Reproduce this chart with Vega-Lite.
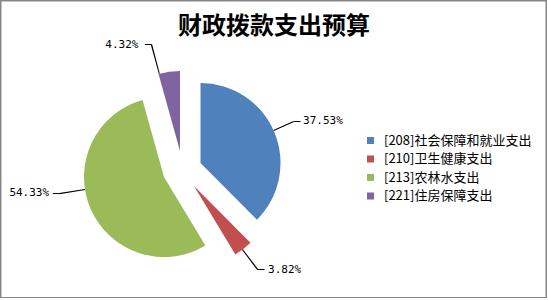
{
  "$schema": "https://vega.github.io/schema/vega-lite/v6.json",
  "width": 547,
  "height": 298,
  "autosize": {"type": "none"},
  "padding": 0,
  "background": "#ffffff",
  "title": {
    "text": "财政拨款支出预算",
    "font": "Noto Sans CJK SC",
    "fontSize": 24,
    "fontWeight": "bold",
    "color": "#000000",
    "anchor": "middle",
    "frame": "group",
    "orient": "none",
    "baseline": "middle",
    "dx": 274,
    "dy": 27
  },
  "data": {
    "values": [
      {"category": "[208]社会保障和就业支出", "pct": 0.3753},
      {"category": "[210]卫生健康支出", "pct": 0.0382},
      {"category": "[213]农林水支出", "pct": 0.5433},
      {"category": "[221]住房保障支出", "pct": 0.0432}
    ]
  },
  "encoding": {
    "theta": {"field": "pct", "type": "quantitative", "stack": "normalize"},
    "order": {"field": "category", "type": "ordinal", "sort": "ascending"}
  },
  "resolve": {"scale": {"theta": "independent"}},
  "layer": [
    {
      "data": {"values": [{"frame": "border"}]},
      "mark": {"type": "rect", "x": 0.75, "y": 0.75, "x2": 546.25, "y2": 297.75, "fill": null, "fillOpacity": 0, "stroke": "#878787", "strokeWidth": 1.5},
      "encoding": {"theta": null, "order": null}
    },
    {
      "mark": {"type": "arc", "radius": 80, "x": 200.5, "y": 163},
      "encoding": {
        "color": {
          "field": "category", "type": "nominal",
          "scale": {"domain": ["[208]社会保障和就业支出", "[210]卫生健康支出", "[213]农林水支出", "[221]住房保障支出"], "range": ["#4F81BD", "#C0504D", "#9BBB59", "#8064A2"]},
          "legend": {"title": null, "orient": "none", "legendX": 364, "legendY": 134, "symbolType": "square", "symbolSize": 49, "symbolStrokeWidth": 0, "labelFont": "Noto Sans CJK SC", "labelFontSize": 13, "labelColor": "#000000", "labelOffset": 7, "rowPadding": 4.5, "padding": 0}
        },
        "opacity": {"condition": {"test": "datum.category === '[208]社会保障和就业支出'", "value": 1}, "value": 0}
      }
    },
    {
      "mark": {"type": "arc", "radius": 80, "x": 194, "y": 186},
      "encoding": {
        "color": {"field": "category", "type": "nominal"},
        "opacity": {"condition": {"test": "datum.category === '[210]卫生健康支出'", "value": 1}, "value": 0}
      }
    },
    {
      "mark": {"type": "arc", "radius": 80, "x": 164, "y": 177},
      "encoding": {
        "color": {"field": "category", "type": "nominal"},
        "opacity": {"condition": {"test": "datum.category === '[213]农林水支出'", "value": 1}, "value": 0}
      }
    },
    {
      "mark": {"type": "arc", "radius": 80, "x": 180, "y": 151},
      "encoding": {
        "color": {"field": "category", "type": "nominal"},
        "opacity": {"condition": {"test": "datum.category === '[221]住房保障支出'", "value": 1}, "value": 0}
      }
    },
    {
      "mark": {"type": "arc", "radius": 102, "radius2": 80, "x": 200.5, "y": 163, "color": "#000000"},
      "encoding": {
        "theta": {"field": "pct", "type": "quantitative", "stack": "normalize", "scale": {"domain": [0, 1], "range": [1.145809, 1.178359]}},
        "detail": {"field": "category", "type": "nominal"},
        "opacity": {"condition": {"test": "datum.category === '[208]社会保障和就业支出'", "value": 1}, "value": 0}
      }
    },
    {
      "mark": {"type": "arc", "radius": 105, "radius2": 80, "x": 194, "y": 186, "color": "#000000"},
      "encoding": {
        "theta": {"field": "pct", "type": "quantitative", "stack": "normalize", "scale": {"domain": [0, 1], "range": [2.364449, 2.684281]}},
        "detail": {"field": "category", "type": "nominal"},
        "opacity": {"condition": {"test": "datum.category === '[210]卫生健康支出'", "value": 1}, "value": 0}
      }
    },
    {
      "mark": {"type": "arc", "radius": 106, "radius2": 80, "x": 164, "y": 177, "color": "#000000"},
      "encoding": {
        "theta": {"field": "pct", "type": "quantitative", "stack": "normalize", "scale": {"domain": [0, 1], "range": [4.539895, 4.562384]}},
        "detail": {"field": "category", "type": "nominal"},
        "opacity": {"condition": {"test": "datum.category === '[213]农林水支出'", "value": 1}, "value": 0}
      }
    },
    {
      "mark": {"type": "arc", "radius": 110, "radius2": 80, "x": 180, "y": 151, "color": "#000000"},
      "encoding": {
        "theta": {"field": "pct", "type": "quantitative", "stack": "normalize", "scale": {"domain": [0, 1], "range": [5.744637, 6.027494]}},
        "detail": {"field": "category", "type": "nominal"},
        "opacity": {"condition": {"test": "datum.category === '[221]住房保障支出'", "value": 1}, "value": 0}
      }
    },
    {
      "mark": {"type": "text", "text": "─", "font": "DejaVu Sans Mono", "fontSize": 11, "color": "#000000", "radius": 102, "thetaOffset": -0.02712, "x": 200.5, "y": 163, "align": "left", "baseline": "middle"},
      "encoding": {
        "detail": {"field": "category", "type": "nominal"},
        "opacity": {"condition": {"test": "datum.category === '[208]社会保障和就业支出'", "value": 1}, "value": 0}
      }
    },
    {
      "mark": {"type": "text", "text": "─", "font": "DejaVu Sans Mono", "fontSize": 11, "color": "#000000", "radius": 105, "thetaOffset": 0.0125, "x": 194, "y": 186, "align": "left", "baseline": "middle"},
      "encoding": {
        "detail": {"field": "category", "type": "nominal"},
        "opacity": {"condition": {"test": "datum.category === '[210]卫生健康支出'", "value": 1}, "value": 0}
      }
    },
    {
      "mark": {"type": "text", "text": "─", "font": "DejaVu Sans Mono", "fontSize": 11, "color": "#000000", "radius": 106, "thetaOffset": 0.25039, "x": 164, "y": 177, "align": "right", "baseline": "middle"},
      "encoding": {
        "detail": {"field": "category", "type": "nominal"},
        "opacity": {"condition": {"test": "datum.category === '[213]农林水支出'", "value": 1}, "value": 0}
      }
    },
    {
      "mark": {"type": "text", "text": "─", "font": "DejaVu Sans Mono", "fontSize": 11, "color": "#000000", "radius": 110, "thetaOffset": -0.12608, "x": 180, "y": 151, "align": "right", "baseline": "middle"},
      "encoding": {
        "detail": {"field": "category", "type": "nominal"},
        "opacity": {"condition": {"test": "datum.category === '[221]住房保障支出'", "value": 1}, "value": 0}
      }
    },
    {
      "mark": {"type": "text", "font": "DejaVu Sans Mono", "fontSize": 11, "color": "#000000", "radius": 111, "thetaOffset": 0, "x": 200.5, "y": 163, "align": "left", "baseline": "middle"},
      "encoding": {
        "text": {"field": "pct", "type": "quantitative", "format": ".2%"},
        "detail": {"field": "category", "type": "nominal"},
        "opacity": {"condition": {"test": "datum.category === '[208]社会保障和就业支出'", "value": 1}, "value": 0}
      }
    },
    {
      "mark": {"type": "text", "font": "DejaVu Sans Mono", "fontSize": 11, "color": "#000000", "radius": 112, "thetaOffset": -0.05906, "x": 194, "y": 186, "align": "left", "baseline": "middle"},
      "encoding": {
        "text": {"field": "pct", "type": "quantitative", "format": ".2%"},
        "detail": {"field": "category", "type": "nominal"},
        "opacity": {"condition": {"test": "datum.category === '[210]卫生健康支出'", "value": 1}, "value": 0}
      }
    },
    {
      "mark": {"type": "text", "font": "DejaVu Sans Mono", "fontSize": 11, "color": "#000000", "radius": 116, "thetaOffset": 0.26784, "x": 164, "y": 177, "align": "right", "baseline": "middle"},
      "encoding": {
        "text": {"field": "pct", "type": "quantitative", "format": ".2%"},
        "detail": {"field": "category", "type": "nominal"},
        "opacity": {"condition": {"test": "datum.category === '[213]农林水支出'", "value": 1}, "value": 0}
      }
    },
    {
      "mark": {"type": "text", "font": "DejaVu Sans Mono", "fontSize": 11, "color": "#000000", "radius": 114, "thetaOffset": -0.23743, "x": 180, "y": 151, "align": "right", "baseline": "middle"},
      "encoding": {
        "text": {"field": "pct", "type": "quantitative", "format": ".2%"},
        "detail": {"field": "category", "type": "nominal"},
        "opacity": {"condition": {"test": "datum.category === '[221]住房保障支出'", "value": 1}, "value": 0}
      }
    }
  ],
  "config": {
    "view": {"stroke": null}
  }
}
